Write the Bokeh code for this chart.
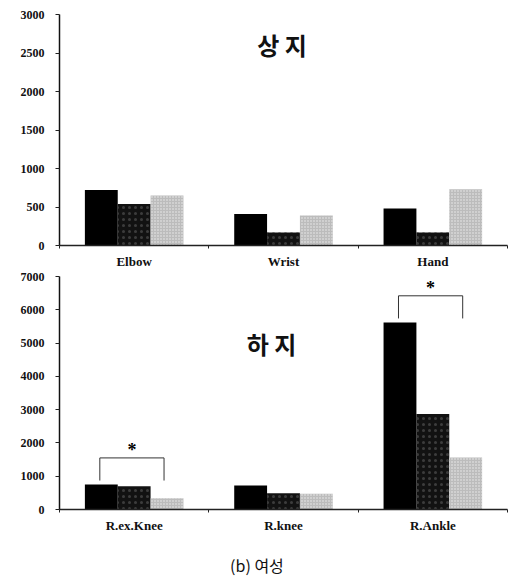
from bokeh.plotting import figure
from bokeh.layouts import column
from bokeh.models import FixedTicker, Range1d
from bokeh.core.properties import value
from bokeh.embed import file_html
from bokeh.resources import INLINE

# Upper limb (상지) values for three groups
upper_parts = ["Elbow", "Wrist", "Hand"]
upper_a = [720, 410, 480]
upper_b = [540, 170, 170]
upper_c = [650, 390, 730]
upper_ticks = [0, 500, 1000, 1500, 2000, 2500, 3000]

# Lower limb (하지) values for three groups
lower_parts = ["R.ex.Knee", "R.knee", "R.Ankle"]
lower_a = [750, 720, 5620]
lower_b = [700, 490, 2870]
lower_c = [340, 470, 1560]
lower_ticks = [0, 1000, 2000, 3000, 4000, 5000, 6000, 7000]

# parts of the lower panel marked as significant
significant = [0, 2]

SERIF = "Liberation Serif"
KR = "Noto Sans CJK KR"

BAR_W = 0.22
OFFSETS = [-0.22, 0.0, 0.22]
STYLES = [
    dict(fill_color="#000000"),
    dict(fill_color="#121212", hatch_pattern="dot", hatch_color="#3c3c3c", hatch_scale=6, hatch_weight=1),
    dict(fill_color="#bcbcbc", hatch_pattern="dot", hatch_color="#eeeeee", hatch_scale=3, hatch_weight=1),
]


def panel(parts, series, ticks, width, height, left, right, top, bottom):
    p = figure(width=width, height=height, output_backend="svg", toolbar_location=None,
               x_range=Range1d(0, len(parts)), y_range=Range1d(0, ticks[-1]),
               min_border_left=left, min_border_right=right,
               min_border_top=top, min_border_bottom=bottom)
    p.outline_line_color = None
    p.xgrid.visible = False
    p.ygrid.visible = False
    p.background_fill_color = "white"
    p.border_fill_color = "white"

    for vals, off, st in zip(series, OFFSETS, STYLES):
        xs = [i + 0.5 + off for i in range(len(parts))]
        p.vbar(x=xs, top=vals, bottom=0, width=BAR_W, line_color=None, **st)

    xa = p.xaxis[0]
    xa.ticker = FixedTicker(ticks=[i + 0.5 for i in range(len(parts))],
                            minor_ticks=list(range(len(parts) + 1)))
    xa.major_label_overrides = {i + 0.5: name for i, name in enumerate(parts)}
    xa.major_tick_line_color = None
    xa.major_tick_out = 0
    xa.major_tick_in = 0
    xa.minor_tick_out = 3
    xa.minor_tick_in = 0
    xa.minor_tick_line_color = "#222222"
    xa.axis_line_color = "#222222"
    xa.axis_line_width = 1.5
    xa.major_label_text_font = SERIF
    xa.major_label_text_font_style = "bold"
    xa.major_label_text_font_size = "13px"
    xa.major_label_text_color = "#111111"
    xa.major_label_standoff = 5

    ya = p.yaxis[0]
    ya.ticker = FixedTicker(ticks=ticks, minor_ticks=[])
    ya.major_tick_out = 4
    ya.major_tick_in = 0
    ya.major_tick_line_color = "#222222"
    ya.axis_line_color = "#111111"
    ya.axis_line_width = 1.5
    ya.major_label_text_font = SERIF
    ya.major_label_text_font_style = "bold"
    ya.major_label_text_font_size = "12px"
    ya.major_label_text_color = "#111111"
    ya.major_label_standoff = 11
    return p


top = panel(upper_parts, [upper_a, upper_b, upper_c], upper_ticks,
            515, 271, 57, 8, 14, 25)
top.text(x=[1.49], y=[2610], text=["상 지"], text_font=value(KR), text_font_style="bold",
         text_font_size="24px", text_align="center", text_baseline="middle", text_color="#111111")

bot = panel(lower_parts, [lower_a, lower_b, lower_c], lower_ticks,
            515, 274, 59, 0, 5, 36)
bot.text(x=[1.42], y=[5000], text=["하 지"], text_font=value(KR), text_font_style="bold",
         text_font_size="24px", text_align="center", text_baseline="middle", text_color="#111111")

# significance brackets spanning the first and third bar of a part
for i in significant:
    peak = max(lower_a[i], lower_b[i], lower_c[i])
    x0 = i + 0.5 - 0.23
    x1 = i + 0.5 + 0.20
    y_top = peak + 800
    y_leg = peak + 120
    bot.line(x=[x0, x0, x1, x1], y=[y_leg, y_top, y_top, y_leg],
             line_color="#333333", line_width=1)
    bot.text(x=[(x0 + x1) / 2], y=[y_top - 60], text=["*"], text_font=value(SERIF),
             text_font_style="bold", text_font_size="18px", text_align="center",
             text_baseline="bottom", text_color="#000000")

cap = figure(width=515, height=40, output_backend="svg", toolbar_location=None,
             x_range=Range1d(0, 515), y_range=Range1d(0, 40),
             min_border=0, min_border_left=0, min_border_right=0,
             min_border_top=0, min_border_bottom=0)
cap.axis.visible = False
cap.grid.visible = False
cap.outline_line_color = None
cap.text(x=[227], y=[21], text=["(b) 여성"], text_font=value(KR),
         text_font_size="16px", text_align="center", text_baseline="middle", text_color="#111111")

layout = column(top, bot, cap, spacing=0)
open("out.html", "w").write(file_html(layout, INLINE))
